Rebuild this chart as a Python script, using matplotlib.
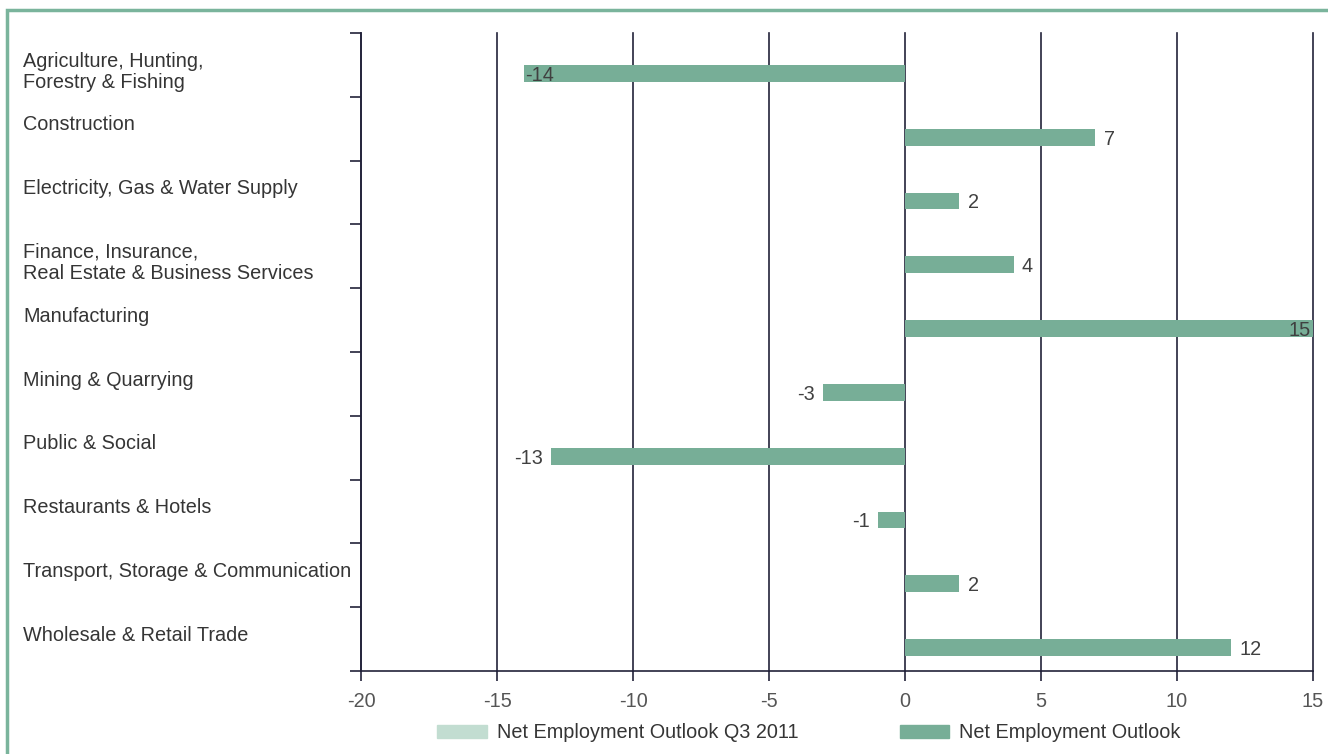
import matplotlib.pyplot as plt
from matplotlib.patches import Patch, Rectangle
from matplotlib.transforms import blended_transform_factory

# данные
sectors = [
    "Agriculture, Hunting,\nForestry & Fishing",
    "Construction",
    "Electricity, Gas & Water Supply",
    "Finance, Insurance,\nReal Estate & Business Services",
    "Manufacturing",
    "Mining & Quarrying",
    "Public & Social",
    "Restaurants & Hotels",
    "Transport, Storage & Communication",
    "Wholesale & Retail Trade",
]
outlook = [-14, 7, 2, 4, 15, -3, -13, -1, 2, 12]
x_ticks = [-20, -15, -10, -5, 0, 5, 10, 15]

bar_col = "#77ae97"
q3_col = "#c2ddd1"
grid_col = "#22223a"
txt_col = "#404040"
fs = 14.3

plt.rcParams['font.family'] = ['Liberation Sans', 'DejaVu Sans']
plt.rcParams['axes.unicode_minus'] = False

fig = plt.figure(figsize=(13.28, 7.54), dpi=100)
ax = fig.add_axes([361 / 1328, 1 - 671 / 754, 952 / 1328, 638 / 754])

# рамка вокруг рисунка
fig.patches.append(Rectangle((7 / 1328, -0.1), 1.2, 1 - 10 / 754 + 0.1,
                             transform=fig.transFigure, fill=False,
                             edgecolor="#7ab49c", linewidth=2.5))

for v in x_ticks:
    ax.axvline(v, color=grid_col, linewidth=1.2, zorder=1, clip_on=False)

pos = list(range(len(sectors)))
ax.barh([p + 0.5 for p in pos], outlook, height=0.266, align='edge',
        color=bar_col, zorder=2)

for p, v in zip(pos, outlook):
    yc = p + 0.5 + 0.133
    if abs(v) >= 14:
        ha = 'left' if v < 0 else 'right'
        off = 0.05 if v < 0 else -0.1
    else:
        ha = 'left' if v > 0 else 'right'
        off = 0.3 if v > 0 else -0.3
    ax.text(v + off, yc, str(v), ha=ha, va='center_baseline', fontsize=fs,
            color=txt_col, zorder=3)

trans = blended_transform_factory(fig.transFigure, ax.transData)
for p, name in zip(pos, sectors):
    ax.text(23 / 1328, p + 0.29, name, transform=trans, ha='left', va='top',
            fontsize=fs, color="#353535", linespacing=1.15)

ax.set_xlim(-20, 15)
ax.set_ylim(len(sectors), 0)
ax.set_xticks(x_ticks)
ax.set_yticks(range(len(sectors) + 1))
ax.set_yticklabels([])
ax.tick_params(axis='x', length=7, width=1.2, color=grid_col, labelsize=fs,
               labelcolor="#555555", pad=8)
ax.tick_params(axis='y', length=8, width=1.2, color=grid_col)
for s in ['top', 'right']:
    ax.spines[s].set_visible(False)
for s in ['left', 'bottom']:
    ax.spines[s].set_color(grid_col)
    ax.spines[s].set_linewidth(1.2)

handles = [Patch(color=q3_col, label="Net Employment Outlook Q3 2011"),
           Patch(color=bar_col, label="Net Employment Outlook")]
fig.legend(handles=handles, loc='center left', bbox_to_anchor=(437 / 1328, 1 - 733 / 754),
           ncol=2, frameon=False, fontsize=fs, handlelength=2.5, handleheight=0.6,
           columnspacing=5.1, handletextpad=0.5, borderpad=0, borderaxespad=0,
           labelcolor="#353535")

fig.savefig("out.png", dpi=100)
